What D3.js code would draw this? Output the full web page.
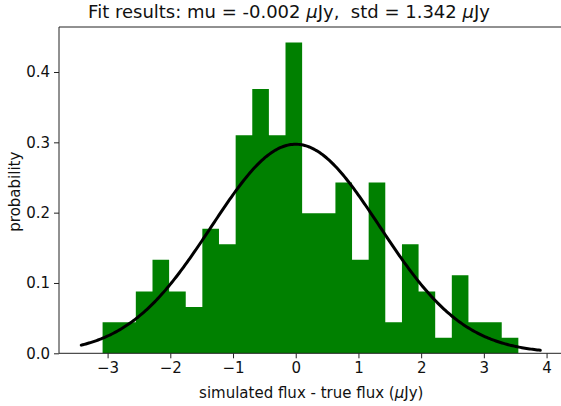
<!DOCTYPE html>
<html>
<head>
<meta charset="utf-8">
<script src="https://cdn.jsdelivr.net/npm/d3@7"></script>
<style>
  html, body { margin: 0; padding: 0; background: #fff; }
  svg { display: block; font-family: "DejaVu Sans", sans-serif; }
  text { white-space: pre; }
</style>
</head>
<body>
<svg id="chart" width="561" height="406"></svg>
<script>
// ---- data ----
const binEdges = [-3.080, -2.815, -2.550, -2.284, -2.019, -1.754, -1.489, -1.224, -0.958, -0.693,
                  -0.428, -0.163, 0.102, 0.368, 0.633, 0.898, 1.163, 1.428, 1.694, 1.959,
                  2.224, 2.489, 2.754, 3.020, 3.285, 3.550];
const density = [0.044, 0.044, 0.088, 0.133, 0.088, 0.066, 0.177, 0.155, 0.310, 0.376,
                 0.310, 0.442, 0.199, 0.199, 0.243, 0.133, 0.243, 0.044, 0.155, 0.088,
                 0.022, 0.111, 0.044, 0.044, 0.022];
// fitted normal (parameters from the title)
const fitMu = -0.002;
const fitStd = 1.342;
const curveRange = [-3.42, 3.90];
const xTicks = [-3, -2, -1, 0, 1, 2, 3, 4];
const yTicks = [0.0, 0.1, 0.2, 0.3, 0.4];
const yTickLabels = ["0.0", "0.1", "0.2", "0.3", "0.4"];

// ---- layout ----
const svg = d3.select("#chart");
const L = 59, R = 563.5, T = 27, B = 353.3;
const x = d3.scaleLinear().domain([-3.775, 4.27]).range([L, R]);
const y = d3.scaleLinear().domain([0, 0.464]).range([B, T]);

// bars (drawn as one step-shaped area so adjacent bars have no seams)
const stepPts = binEdges.map((e, i) => [e, density[Math.min(i, density.length - 1)]]);
svg.append("path")
  .datum(stepPts)
  .attr("fill", "#008000")
  .attr("d", d3.area().curve(d3.curveStepAfter)
    .x(d => x(d[0])).y0(y(0)).y1(d => y(d[1])));

// fit curve
const pdf = v => Math.exp(-((v - fitMu) ** 2) / (2 * fitStd * fitStd)) / (fitStd * Math.sqrt(2 * Math.PI));
const n = 300;
const pts = d3.range(n + 1).map(i => {
  const v = curveRange[0] + (curveRange[1] - curveRange[0]) * i / n;
  return [v, pdf(v)];
});
svg.append("path")
  .datum(pts)
  .attr("fill", "none")
  .attr("stroke", "#000")
  .attr("stroke-width", 3)
  .attr("stroke-linecap", "round")
  .attr("d", d3.line().x(d => x(d[0])).y(d => y(d[1])));

// axes
const xAxis = d3.axisBottom(x).tickValues(xTicks).tickSize(5).tickPadding(4)
  .tickFormat(d => d < 0 ? "\u2212" + Math.abs(d) : String(d));
const gx = svg.append("g").attr("transform", `translate(0,${B})`).call(xAxis);
const yAxis = d3.axisLeft(y).tickValues(yTicks).tickSize(5).tickPadding(4)
  .tickFormat((d, i) => yTickLabels[i]);
const gy = svg.append("g").attr("transform", `translate(${L},0)`).call(yAxis);
[gx, gy].forEach(g => {
  g.select(".domain").remove();
  g.selectAll("line").attr("stroke", "#222").attr("stroke-width", 1);
  g.selectAll("text").attr("font-size", 15).attr("fill", "#111")
    .attr("font-family", "DejaVu Sans, sans-serif");
});

// spines
svg.append("line").attr("x1", L).attr("x2", L).attr("y1", T).attr("y2", B)
  .attr("stroke", "#222").attr("stroke-width", 1);
svg.append("line").attr("x1", L).attr("x2", R).attr("y1", B).attr("y2", B)
  .attr("stroke", "#222").attr("stroke-width", 1);
svg.append("line").attr("x1", L).attr("x2", R).attr("y1", T).attr("y2", T)
  .attr("stroke", "#222").attr("stroke-width", 1);
svg.append("line").attr("x1", R).attr("x2", R).attr("y1", T).attr("y2", B)
  .attr("stroke", "#222").attr("stroke-width", 1);

// title
const title = svg.append("text").attr("x", 289).attr("y", 18)
  .attr("text-anchor", "middle").attr("font-size", 18).attr("fill", "#111");
title.append("tspan").text("Fit results: mu = -0.002 ");
title.append("tspan").attr("font-style", "italic").text("\u03bc");
title.append("tspan").text("Jy,  std = 1.342 ");
title.append("tspan").attr("font-style", "italic").text("\u03bc");
title.append("tspan").text("Jy");

// x label
const xl = svg.append("text").attr("x", (L + R) / 2).attr("y", 398)
  .attr("text-anchor", "middle").attr("font-size", 15).attr("fill", "#111");
xl.append("tspan").text("simulated flux - true flux (");
xl.append("tspan").attr("font-style", "italic").text("\u03bc");
xl.append("tspan").text("Jy)");

// y label
svg.append("text").attr("transform", "translate(19.7,191.7) rotate(-90)")
  .attr("text-anchor", "middle").attr("font-size", 15).attr("fill", "#111")
  .text("probability");
</script>
</body>
</html>
